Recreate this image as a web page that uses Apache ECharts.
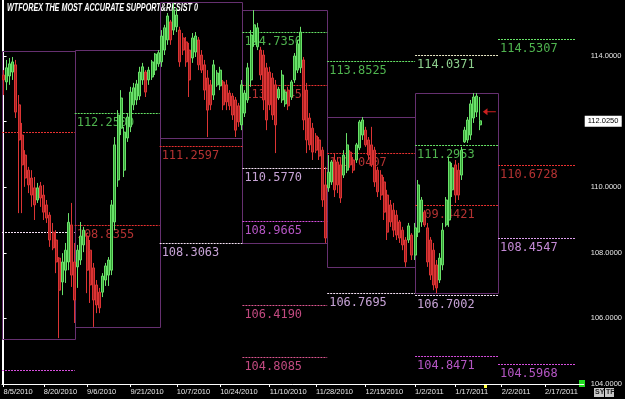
<!DOCTYPE html>
<html>
<head>
<meta charset="utf-8">
<script src="https://cdn.jsdelivr.net/npm/echarts@6/dist/echarts.min.js"></script>
<style>
  html, body { margin: 0; padding: 0; background: #000; }
  #main { width: 625px; height: 399px; }
</style>
</head>
<body>
<div id="main"></div>
<script>
// USD/JPY daily candles (one bar per trading day incl. sunday bars)
const opens = [113.42,113.21,113.39,113.51,113.73,112.51,111.59,110.98,110.52,110.28,
  109.98,109.61,110.04,109.76,109.46,109.15,108.63,108.39,107.84,107.11,
  107.47,107.72,108.85,107.72,107.57,107.78,108.24,108.51,108.08,107.54,
  107.02,106.80,106.80,107.17,107.32,107.47,108.94,110.22,111.80,110.52,
  111.50,111.84,112.51,112.66,112.78,113.27,113.51,113.27,113.36,113.57,
  113.76,113.82,114.18,114.49,115.04,114.79,114.89,114.79,114.55,114.43,
  114.18,113.94,114.12,114.49,114.03,113.73,113.33,113.12,112.81,113.12,
  113.09,113.21,113.12,112.87,112.78,112.66,112.48,111.90,112.26,112.66,
  113.27,114.43,114.28,114.18,114.03,113.64,113.51,113.33,113.12,112.72,
  112.66,112.54,112.96,112.75,113.27,113.57,113.64,113.88,112.96,112.11,
  111.80,111.56,111.44,111.13,110.07,109.98,110.16,110.83,110.77,110.68,
  110.37,110.52,111.07,110.83,110.83,111.20,111.59,111.74,111.44,111.29,
  111.13,110.52,110.37,110.16,109.76,109.46,109.30,109.15,108.94,108.69,
  108.39,108.39,108.54,107.93,108.63,108.94,109.24,108.76,108.39,108.08,
  107.63,107.17,107.63,108.85,109.00,109.92,110.68,110.52,110.37,111.38,
  111.44,111.59,112.11,112.29,111.90];
const closes = [113.27,113.64,113.76,113.82,112.29,111.44,110.68,110.28,110.07,109.76,
  109.46,109.98,109.67,109.24,109.06,108.39,108.15,107.72,106.86,107.72,
  108.08,108.93,107.32,106.56,108.08,108.51,108.69,107.47,107.02,106.56,
  106.41,106.32,107.29,107.60,107.78,109.46,111.29,112.20,112.72,111.68,
  112.14,112.90,113.03,113.15,113.51,113.67,112.90,113.57,113.82,114.06,
  114.10,114.61,114.86,115.22,114.49,115.40,115.25,113.82,114.18,113.82,
  113.27,114.55,114.61,113.73,113.57,112.96,112.35,112.51,113.73,113.48,
  113.57,112.51,112.60,112.48,112.20,111.74,111.99,113.12,112.87,113.64,
  114.64,114.95,114.86,113.42,112.66,112.05,112.51,112.20,111.90,112.99,
  113.42,112.90,112.48,113.21,114.00,114.37,114.73,112.05,111.44,111.29,
  111.07,111.13,110.95,109.61,108.45,110.46,110.77,109.92,110.07,109.67,
  110.98,111.29,110.68,110.52,111.29,111.99,112.05,111.29,110.98,110.68,
  110.16,109.86,109.76,109.24,108.63,108.94,108.69,108.54,108.45,108.24,
  107.72,108.82,107.93,108.76,110.07,109.61,108.85,107.72,107.32,107.02,
  106.93,107.84,108.69,109.61,110.77,110.59,109.76,109.76,111.13,111.74,
  112.05,112.54,112.75,112.78,112.025];
const lows = [112.81,112.96,113.12,113.27,112.11,109.21,109.21,110.01,109.82,109.40,
  109.00,109.52,109.40,109.00,108.91,108.18,108.08,107.38,105.40,106.71,
  107.08,107.47,106.96,105.86,106.93,107.63,108.02,106.77,106.47,105.74,
  106.16,106.16,106.65,106.99,106.99,107.32,108.69,110.01,111.59,110.31,
  111.38,111.68,112.35,112.51,112.66,113.12,112.75,113.12,113.27,113.42,
  113.67,113.67,114.03,114.34,114.34,114.64,114.73,113.67,114.03,113.67,
  112.75,113.79,113.97,113.57,113.48,112.66,111.53,112.35,112.66,113.06,
  112.96,112.35,112.35,112.35,112.05,111.53,111.84,111.74,112.14,112.57,
  113.06,114.28,114.18,113.27,112.35,111.74,112.35,112.05,111.04,112.66,
  112.57,112.45,112.35,112.66,113.18,113.48,113.48,111.74,111.04,111.13,
  110.83,111.04,110.83,109.40,108.30,109.86,110.07,109.70,109.82,109.52,
  110.28,110.43,110.59,110.43,110.74,111.13,111.44,111.23,110.83,110.62,
  110.01,109.70,109.61,109.00,108.39,108.79,108.48,108.39,108.30,108.08,
  107.57,108.30,107.78,107.78,108.48,108.79,108.79,107.57,107.17,106.86,
  106.77,107.08,107.47,108.79,108.79,109.70,109.52,109.61,110.22,111.35,
  111.35,111.44,111.96,112.14,111.74];
const highs = [113.57,113.88,113.94,113.97,113.88,112.81,111.96,111.13,110.62,110.52,
  110.31,110.13,110.16,110.07,109.61,109.24,108.91,108.69,107.87,107.99,
  108.30,109.21,109.52,108.30,108.24,108.94,108.79,108.60,108.39,107.69,
  107.17,106.93,107.38,107.69,107.87,109.61,111.53,112.35,112.96,111.84,
  112.26,113.06,113.18,113.27,113.67,113.79,113.57,113.67,113.88,114.09,
  114.18,114.79,114.95,115.31,115.10,115.62,115.47,114.89,114.70,114.58,
  114.40,114.70,114.73,114.58,114.18,113.88,113.57,113.27,113.88,113.57,
  113.67,113.27,113.27,112.96,112.87,112.75,112.57,113.27,112.96,113.79,
  114.79,115.40,115.01,114.28,114.18,113.79,113.67,113.48,113.27,113.06,
  113.57,112.96,113.06,113.27,114.09,114.49,114.89,113.97,113.18,112.26,
  111.96,111.65,111.53,111.23,110.62,110.98,110.83,111.04,110.92,110.83,
  111.13,111.65,111.13,110.92,111.35,112.05,112.14,111.84,111.53,111.84,
  111.23,110.62,110.52,110.31,109.92,109.61,109.52,109.30,109.00,108.79,
  108.48,108.91,108.60,108.91,110.22,109.70,109.30,108.91,108.48,108.30,
  107.78,107.99,108.91,109.70,110.92,110.74,110.83,110.74,111.23,111.84,
  112.14,112.66,112.87,112.87,112.75];

const lastPrice = 112.025;
const barSlots = 188;

// date labels under the x axis and the bar they sit on
const tickIdx = [0, 13, 27, 41, 56, 70, 86, 101, 117, 133, 146, 161, 175];
const tickText = ['8/5/2010','8/20/2010','9/6/2010','9/21/2010','10/7/2010','10/24/2010',
  '11/10/2010','11/28/2010','12/15/2010','1/2/2011','1/17/2011','2/2/2011','2/17/2011'];

// monthly range boxes (bar index edges) and their high / low
const periodEdges = [-0.5, 23, 50.45, 77.2, 104.6, 133, 159.8, 185];
const boxHigh = [114.15, 114.18, 115.65, 115.40, 112.14, 112.87];
const boxLow  = [105.37, 105.74, 111.50, 108.30, 107.57, 106.77];

// support / resistance levels, projected over each period
const levelPeriod = [0,0,0, 1,1, 2,2, 3,3,3,3,3,3, 4,4,4, 5,5,5,5,5, 6,6,6,6];
const levelValue = [111.68,108.63,104.43, 112.25,108.8355, 111.2597,108.3063,
  114.735,113.1045,110.577,108.9665,106.419,104.8085, 113.8525,111.0407,106.7695,
  114.0371,111.2953,109.4421,106.7002,104.8471, 114.5307,110.6728,108.4547,104.5968];
const levelKind = ['r','w','m', 'g','r', 'r','w', 'g','r','w','m','p','p', 'g','r','w',
  'g2','g','r','w','m', 'g','r','m2','m'];

const kindColors = {
  g:  ['#66e466', '#4fb44f'],
  g2: ['#ecebc8', '#8ed08e'],
  r:  ['#e83030', '#b53232'],
  w:  ['#f6e2f6', '#c7a3d6'],
  m:  ['#d64ede', '#b556c4'],
  m2: ['#dc9eec', '#c48ad6'],
  p:  ['#dc5690', '#c24a80']
};

const arrowAt = [157, 112.3];

let bars = [];
for (let i = 0; i < opens.length; i++) {
    bars.push([i, opens[i], closes[i], lows[i], highs[i]]);
}
let boxes = [];
for (let i = 0; i < boxHigh.length; i++) {
    boxes.push([periodEdges[i], periodEdges[i + 1], boxHigh[i], boxLow[i]]);
}
let levels = [];
for (let i = 0; i < levelValue.length; i++) {
    let p = levelPeriod[i];
    levels.push([periodEdges[p], periodEdges[p + 1], levelValue[i]]);
}

let myChart = echarts.init(document.getElementById('main'));
let option = {
    backgroundColor: '#000',
    animation: false,
    grid: { left: 2, right: 40, top: 0, bottom: 15 },
    xAxis: {
        type: 'value',
        min: -0.5,
        max: barSlots - 0.5,
        axisLine: { lineStyle: { color: '#fff', width: 1 } },
        axisTick: { customValues: tickIdx, length: 3, lineStyle: { color: '#fff' } },
        axisLabel: {
            customValues: tickIdx,
            formatter: function (v) { return tickText[tickIdx.indexOf(v)]; },
            color: '#e6e6e6', fontSize: 7.5, fontFamily: 'Liberation Sans',
            align: 'left', margin: 4
        },
        splitLine: { show: false }
    },
    yAxis: [
        {
            type: 'value',
            position: 'right',
            min: 104,
            max: 104 + 384 / 32.8,
            interval: 2,
            axisLine: { show: true, lineStyle: { color: '#fff' } },
            axisTick: { show: true, length: 3, lineStyle: { color: '#fff' } },
            axisLabel: {
                formatter: function (v) { return v.toFixed(4); },
                color: '#e6e6e6', fontSize: 7.5, fontFamily: 'Liberation Sans',
                margin: 7, showMaxLabel: false
            },
            splitLine: { show: false }
        },
        {
            type: 'value',
            position: 'left',
            min: 104,
            max: 104 + 384 / 32.8,
            axisLine: { show: true, lineStyle: { color: '#fff' } },
            axisTick: { show: false },
            axisLabel: { show: false },
            splitLine: { show: false }
        }
    ],
    graphic: [
        {
            type: 'text', x: 7, y: 3, scaleX: 0.72,
            style: {
                text: 'WTFOREX THE MOST ACCURATE SUPPORT&RESIST 0',
                fill: '#fff', font: 'italic bold 10px "Liberation Sans"', verticalAlign: 'top'
            }
        },
        { type: 'rect', shape: { x: 579, y: 380, width: 6, height: 7 }, style: { fill: '#22dd22' } },
        { type: 'rect', shape: { x: 484, y: 384, width: 3, height: 4 }, style: { fill: '#ffff40' } },
        { type: 'rect', shape: { x: 594, y: 388, width: 10, height: 9 }, style: { fill: '#c8c8c8' } },
        { type: 'rect', shape: { x: 605, y: 388, width: 9, height: 9 }, style: { fill: '#c8c8c8' } },
        { type: 'text', x: 595, y: 389, style: { text: 'SY', fill: '#222', font: 'bold 7px "Liberation Sans"', verticalAlign: 'top' } },
        { type: 'text', x: 606, y: 389, style: { text: 'TF', fill: '#222', font: 'bold 7px "Liberation Sans"', verticalAlign: 'top' } }
    ],
    series: [
        {
            name: 'boxes',
            type: 'custom',
            z: 1,
            silent: true,
            data: boxes,
            encode: { x: [0, 1], y: [2, 3] },
            renderItem: function (params, api) {
                let a = api.coord([api.value(0), api.value(2)]);
                let b = api.coord([api.value(1), api.value(3)]);
                let x1 = Math.round(a[0]) + 0.5, y1 = Math.round(a[1]) + 0.5;
                let x2 = Math.round(b[0]) + 0.5, y2 = Math.round(b[1]) + 0.5;
                return {
                    type: 'rect',
                    shape: { x: x1, y: y1, width: x2 - x1, height: y2 - y1 },
                    style: { fill: 'none', stroke: '#663070', lineWidth: 1 }
                };
            }
        },
        {
            name: 'levels',
            type: 'custom',
            z: 2,
            silent: true,
            data: levels,
            encode: { x: [0, 1], y: 2 },
            renderItem: function (params, api) {
                let i = params.dataIndex;
                let s = api.coord([api.value(0), api.value(2)]);
                let e = api.coord([api.value(1), api.value(2)]);
                let c = kindColors[levelKind[i]];
                let y = Math.round(s[1]) + 0.5;
                let kids = [{
                    type: 'line',
                    shape: { x1: s[0], y1: y, x2: e[0], y2: y },
                    style: { stroke: c[0], lineWidth: 1, lineDash: [2, 1] }
                }];
                if (levelPeriod[i] > 0) {
                    kids.push({
                        type: 'text', x: s[0] + 2, y: y + 3, scaleX: 0.92,
                        style: {
                            text: levelValue[i].toFixed(4), fill: c[1],
                            font: '13px "DejaVu Sans Mono"', verticalAlign: 'top'
                        }
                    });
                }
                return { type: 'group', children: kids };
            }
        },
        {
            name: 'USDJPY',
            type: 'candlestick',
            z: 3,
            data: bars,
            encode: { x: 0, y: [1, 2, 3, 4] },
            barWidth: 2.5,
            itemStyle: {
                color: '#33a033',
                color0: '#a01e1e',
                borderColor: '#6ae06a',
                borderColor0: '#dc3434',
                borderWidth: 1
            },
            markPoint: {
                silent: true,
                symbol: 'path://M0,4 L5,0 L5,3.4 L14,3.4 L14,4.6 L5,4.6 L5,8 Z',
                symbolSize: [13, 7],
                itemStyle: { color: '#cc2020' },
                label: { show: false },
                data: [{ coord: arrowAt }]
            }
        },
        {
            name: 'price',
            type: 'custom',
            z: 4,
            silent: true,
            data: [[opens.length - 1, lastPrice]],
            encode: { x: 0, y: 1 },
            renderItem: function (params, api) {
                let p = api.coord([api.value(0), api.value(1)]);
                let cs = params.coordSys;
                let x0 = cs.x + cs.width + 1;
                return {
                    type: 'group',
                    children: [
                        { type: 'rect', shape: { x: x0, y: p[1] - 5, width: 37, height: 11 }, style: { fill: '#fff' } },
                        { type: 'text', x: x0 + 3, y: p[1] + 0.5, style: { text: lastPrice.toFixed(4), fill: '#000', font: '7.5px "Liberation Sans"', verticalAlign: 'middle' } }
                    ]
                };
            }
        }
    ]
};
myChart.setOption(option);
</script>
</body>
</html>
